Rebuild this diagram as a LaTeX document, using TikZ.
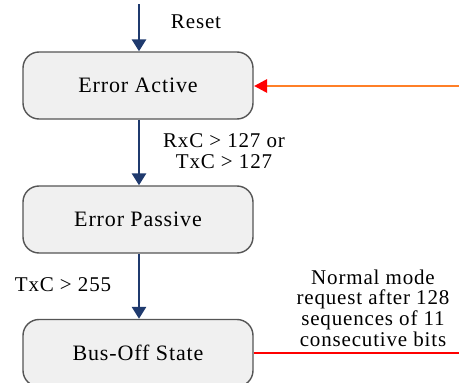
\documentclass[tikz,border=0pt]{standalone}
\usepackage{fontspec}
\setmainfont{Liberation Serif}[LetterSpace=4]
\usetikzlibrary{arrows.meta}
\definecolor{navy}{HTML}{1F3A6E}
\definecolor{boxfill}{HTML}{F0F0F0}
\definecolor{boxline}{HTML}{555555}
\definecolor{orangeline}{HTML}{FF7F27}
\tikzset{
  state/.style={draw=boxline, line width=1.4pt, fill=boxfill, rounded corners=16pt,
    minimum width=230pt, minimum height=67pt, inner sep=0pt, font=\fontsize{22}{24}\selectfont},
  flow/.style={draw=navy, line width=2.8pt, -{Triangle[width=14pt,length=12pt]}},
  lbl/.style={font=\fontsize{21}{21}\selectfont, align=center, inner sep=0pt}
}
\begin{document}
\begin{tikzpicture}[x=1pt,y=-1pt]
\useasboundingbox (0,0) rectangle (459,383);
\node[state] (ea) at (138,85.5) {Error Active};
\node[state] (ep) at (138,219.5) {Error Passive};
\node[state] (bo) at (138,353) {Bus-Off State};
\coordinate (top) at (139,4);
\coordinate (rin) at (462,86);
\coordinate (rout) at (462,353);
\draw[flow] (top) -- (ea.north -| top);
\draw[flow] (ea.south -| top) -- (ep.north -| top);
\draw[flow] (ep.south -| top) -- (bo.north -| top);
\node[lbl] (reset) at (196,22) {Reset};
\node[lbl] (c1) at (224,151) {RxC > 127 or\\TxC > 127};
\node[lbl] (c2) at (63,285) {TxC > 255};
\node[lbl, font=\fontsize{21}{20.7}\selectfont] (nm) at (373,308) {Normal mode\\request after 128\\sequences of 11\\consecutive bits};
\draw[orangeline, line width=2.8pt] (rin) -- ([xshift=10pt]ea.east |- rin);
\fill[red] ([xshift=0.5pt]ea.east |- rin) -- ++(13pt,-7pt) -- ++(0,14pt) -- cycle;
\draw[red, line width=2pt] (bo.east |- rout) -- (rout);
\end{tikzpicture}
\end{document}
